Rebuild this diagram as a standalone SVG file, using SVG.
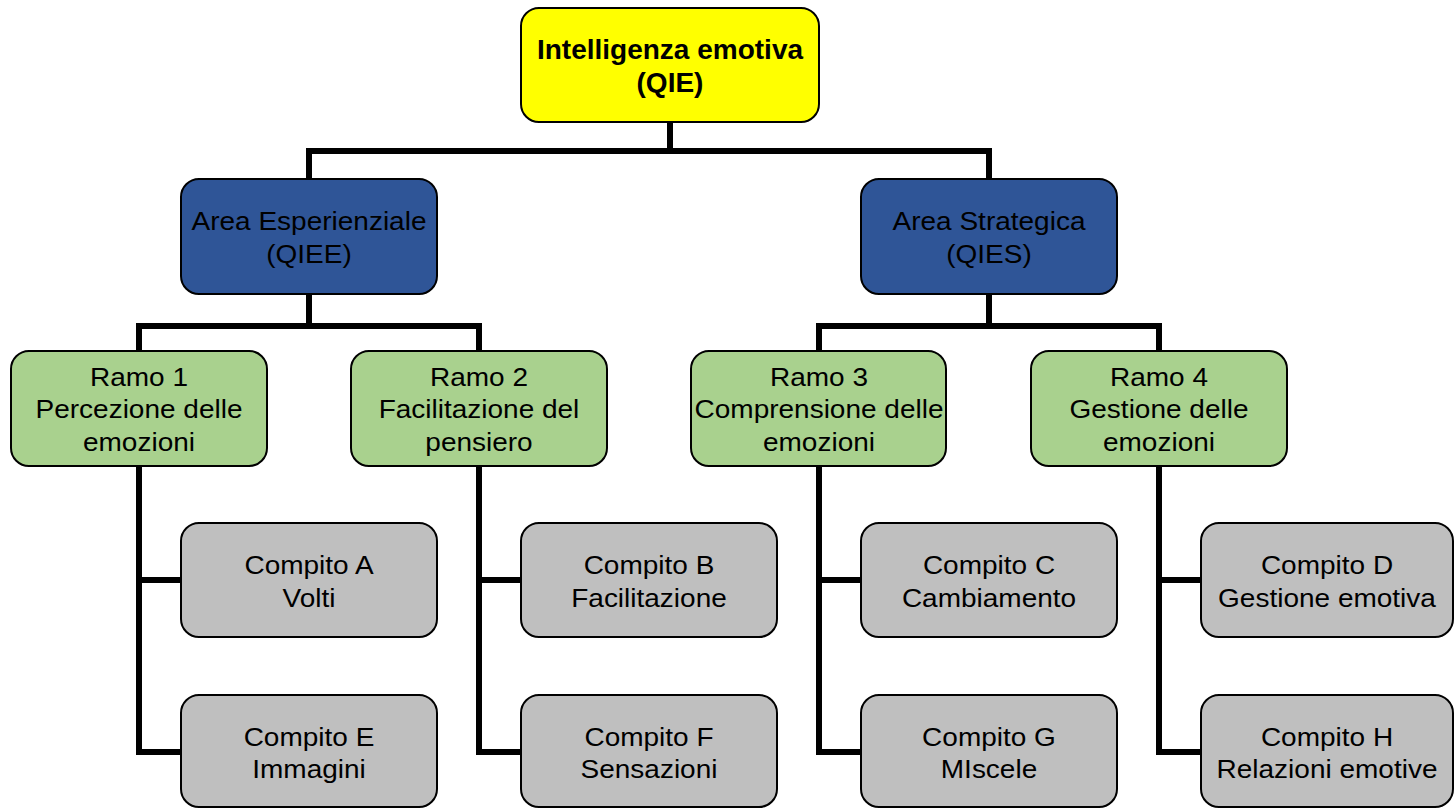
<svg xmlns="http://www.w3.org/2000/svg" width="1454" height="808" viewBox="0 0 1454 808">
<style>
.box{stroke:#000;stroke-width:2}
.top{fill:#FFFF00}
.area{fill:#2F5597}
.ramo{fill:#A9D18E}
.comp{fill:#BFBFBF}
.t{font-family:"Liberation Sans",Arial,sans-serif;font-size:25px;fill:#000;text-anchor:middle}
.tb{font-family:"Liberation Sans",Arial,sans-serif;font-size:28px;font-weight:bold;fill:#000;text-anchor:middle}
.con{fill:none;stroke:#000;stroke-width:6;stroke-linejoin:miter;stroke-linecap:butt}
</style>
<rect width="1454" height="808" fill="#fff"/>
<g id="connectors">
<path class="con" d="M670 122 V151"/>
<path class="con" d="M309 179 V151 H989 V179"/>
<path class="con" d="M309 294 V326"/>
<path class="con" d="M139 351 V326 H479 V351"/>
<path class="con" d="M989 294 V326"/>
<path class="con" d="M819 351 V326 H1159 V351"/>
<path class="con" d="M139 466 V752 H181 M139 580 H181"/>
<path class="con" d="M479 466 V752 H521 M479 580 H521"/>
<path class="con" d="M819 466 V752 H861 M819 580 H861"/>
<path class="con" d="M1159 466 V752 H1201 M1159 580 H1201"/>
</g>
<g id="qie">
<rect class="box top" x="521" y="8" width="298" height="114" rx="18"/>
<text class="tb" x="670" y="59">Intelligenza emotiva</text>
<text class="tb" x="670" y="92">(QIE)</text>
</g>
<g id="qiee">
<rect class="box area" x="181" y="179" width="256" height="115" rx="18"/>
<text class="t" transform="translate(309 0) scale(1.12 1)"><tspan x="0" y="230">Area Esperienziale</tspan><tspan x="0" y="263">(QIEE)</tspan></text>
</g>
<g id="qies">
<rect class="box area" x="861" y="179" width="256" height="115" rx="18"/>
<text class="t" transform="translate(989 0) scale(1.12 1)"><tspan x="0" y="230">Area Strategica</tspan><tspan x="0" y="263">(QIES)</tspan></text>
</g>
<g id="ramo1">
<rect class="box ramo" x="11" y="351" width="256" height="115" rx="18"/>
<text class="t" transform="translate(139 0) scale(1.12 1)"><tspan x="0" y="386">Ramo 1</tspan><tspan x="0" y="418">Percezione delle</tspan><tspan x="0" y="451">emozioni</tspan></text>
</g>
<g id="ramo2">
<rect class="box ramo" x="351" y="351" width="256" height="115" rx="18"/>
<text class="t" transform="translate(479 0) scale(1.12 1)"><tspan x="0" y="386">Ramo 2</tspan><tspan x="0" y="418">Facilitazione del</tspan><tspan x="0" y="451">pensiero</tspan></text>
</g>
<g id="ramo3">
<rect class="box ramo" x="691" y="351" width="255" height="115" rx="18"/>
<text class="t" transform="translate(819 0) scale(1.12 1)"><tspan x="0" y="386">Ramo 3</tspan><tspan x="0" y="418">Comprensione delle</tspan><tspan x="0" y="451">emozioni</tspan></text>
</g>
<g id="ramo4">
<rect class="box ramo" x="1031" y="351" width="256" height="115" rx="18"/>
<text class="t" transform="translate(1159 0) scale(1.12 1)"><tspan x="0" y="386">Ramo 4</tspan><tspan x="0" y="418">Gestione delle</tspan><tspan x="0" y="451">emozioni</tspan></text>
</g>
<g id="compitoA">
<rect class="box comp" x="181" y="523" width="256" height="114" rx="18"/>
<text class="t" transform="translate(309 0) scale(1.12 1)"><tspan x="0" y="574">Compito A</tspan><tspan x="0" y="607">Volti</tspan></text>
</g>
<g id="compitoB">
<rect class="box comp" x="521" y="523" width="256" height="114" rx="18"/>
<text class="t" transform="translate(649 0) scale(1.12 1)"><tspan x="0" y="574">Compito B</tspan><tspan x="0" y="607">Facilitazione</tspan></text>
</g>
<g id="compitoC">
<rect class="box comp" x="861" y="523" width="256" height="114" rx="18"/>
<text class="t" transform="translate(989 0) scale(1.12 1)"><tspan x="0" y="574">Compito C</tspan><tspan x="0" y="607">Cambiamento</tspan></text>
</g>
<g id="compitoD">
<rect class="box comp" x="1201" y="523" width="252" height="114" rx="18"/>
<text class="t" transform="translate(1327 0) scale(1.12 1)"><tspan x="0" y="574">Compito D</tspan><tspan x="0" y="607">Gestione emotiva</tspan></text>
</g>
<g id="compitoE">
<rect class="box comp" x="181" y="695" width="256" height="112" rx="18"/>
<text class="t" transform="translate(309 0) scale(1.12 1)"><tspan x="0" y="746">Compito E</tspan><tspan x="0" y="778">Immagini</tspan></text>
</g>
<g id="compitoF">
<rect class="box comp" x="521" y="695" width="256" height="112" rx="18"/>
<text class="t" transform="translate(649 0) scale(1.12 1)"><tspan x="0" y="746">Compito F</tspan><tspan x="0" y="778">Sensazioni</tspan></text>
</g>
<g id="compitoG">
<rect class="box comp" x="861" y="695" width="256" height="112" rx="18"/>
<text class="t" transform="translate(989 0) scale(1.12 1)"><tspan x="0" y="746">Compito G</tspan><tspan x="0" y="778">MIscele</tspan></text>
</g>
<g id="compitoH">
<rect class="box comp" x="1201" y="695" width="252" height="112" rx="18"/>
<text class="t" transform="translate(1327 0) scale(1.12 1)"><tspan x="0" y="746">Compito H</tspan><tspan x="0" y="778">Relazioni emotive</tspan></text>
</g>
</svg>
